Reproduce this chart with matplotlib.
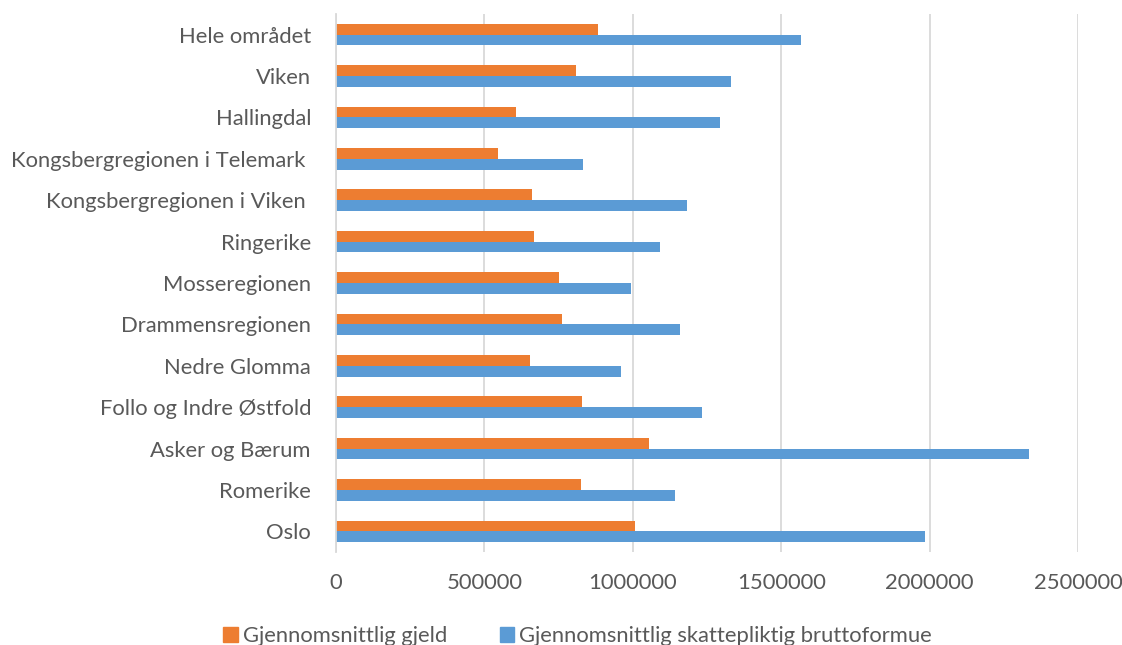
import numpy as np
import matplotlib
matplotlib.use("Agg")
import matplotlib.pyplot as plt
from matplotlib.patches import Patch

# data (bottom -> top, as drawn)
regions = [
    "Oslo", "Romerike", "Asker og Bærum", "Follo og Indre Østfold",
    "Nedre Glomma", "Drammensregionen", "Mosseregionen", "Ringerike",
    "Kongsbergregionen i Viken ", "Kongsbergregionen i Telemark ",
    "Hallingdal", "Viken", "Hele området",
]
gjeld = [1008000, 826000, 1054000, 828000, 652000, 760000, 751000,
         668000, 662000, 546000, 606000, 808000, 882000]
bruttoformue = [1985000, 1141000, 2334000, 1233000, 961000, 1158000,
                994000, 1093000, 1184000, 833000, 1293000, 1330000, 1567000]
xticks = [0, 500000, 1000000, 1500000, 2000000, 2500000]

ORANGE = "#ED7D31"
BLUE = "#5B9BD5"
TEXT = "#595959"
GRID = "#D9D9D9"

plt.rcParams['font.family'] = ['Lato', 'DejaVu Sans']

fig = plt.figure(figsize=(11.22, 6.45), dpi=100)
ax = fig.add_axes([336 / 1122, 1 - 552 / 645, (1078 - 336) / 1122, (552 - 14) / 645])

y = np.arange(len(regions))
h = 0.26
ax.barh(y + h / 2, gjeld, height=h, color=ORANGE, label="Gjennomsnittlig gjeld", zorder=3)
ax.barh(y - h / 2, bruttoformue, height=h, color=BLUE,
        label="Gjennomsnittlig skattepliktig bruttoformue", zorder=3)

ax.set_xlim(0, 2500000)
ax.set_ylim(-0.5, len(regions) - 0.5)
ax.set_xticks(xticks)
ax.set_xticklabels([str(v) for v in xticks])
ax.set_yticks(y)
ax.set_yticklabels(regions)

ax.grid(axis="x", color=GRID, linewidth=1.3, zorder=0)
for s in ["top", "right", "bottom"]:
    ax.spines[s].set_visible(False)
ax.spines["left"].set_color(GRID)
ax.spines["left"].set_linewidth(1.3)
ax.spines["left"].set_zorder(4)

ax.tick_params(axis="both", length=0, labelsize=15.8, labelcolor=TEXT)
ax.tick_params(axis="y", pad=18)
ax.tick_params(axis="x", pad=15)

handles = [Patch(color=ORANGE), Patch(color=BLUE)]
fig.legend(handles, ["Gjennomsnittlig gjeld", "Gjennomsnittlig skattepliktig bruttoformue"],
           loc="center", bbox_to_anchor=(0.515, 1 - 636 / 645), ncol=2, frameon=False,
           fontsize=15.8, labelcolor=TEXT, handlelength=0.64, handleheight=0.64,
           handletextpad=0.25, columnspacing=2.4, borderpad=0)

fig.savefig("out.png", dpi=100)
